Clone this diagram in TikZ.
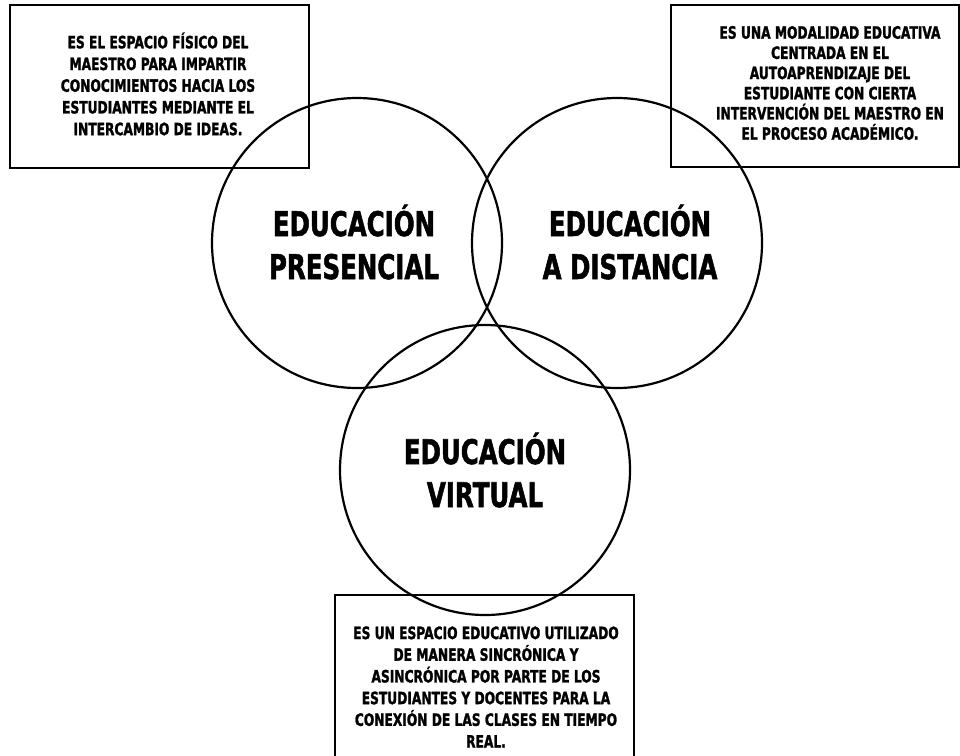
\documentclass[tikz,border=0pt]{standalone}
\usepackage{fontspec}
\setmainfont{DejaVu Sans}[FakeStretch=0.72,BoldFeatures={FakeBold=1.5}]
\begin{document}
\begin{tikzpicture}[x=1pt,y=-1pt,
  ring/.style={circle,draw,line width=2.2pt,minimum size=290pt,inner sep=0pt},
  frame/.style={draw,line width=1.9pt,inner sep=0pt},
  small/.style={align=center,font=\bfseries\fontsize{17}{21.7}\selectfont,inner sep=0pt},
  title/.style={align=center,font=\bfseries\fontsize{34}{43}\selectfont,inner sep=0pt}]
\useasboundingbox (0,0) rectangle (960,755);
% boxes
\node[frame,minimum width=299pt,minimum height=163pt] (b1) at (159.5,86.5) {};
\node[frame,minimum width=288pt,minimum height=162pt] (b2) at (815,86) {};
\coordinate (b3bl) at (335,757);
\coordinate (b3tl) at (335,595);
\coordinate (b3tr) at (634,595);
\coordinate (b3br) at (634,757);
\draw[line width=1.9pt] (b3bl) -- (b3tl) -- (b3tr) -- (b3br);
% circles
\node[ring] (c1) at (357,243) {};
\node[ring] (c2) at (617,243) {};
\node[ring] (c3) at (485,470) {};
% titles
\node[title] (t1) at (354,242) {EDUCACIÓN\\PRESENCIAL};
\node[title] (t2) at (630,242) {EDUCACIÓN\\A DISTANCIA};
\node[title] (t3) at (485,470) {EDUCACIÓN\\VIRTUAL};
% box texts
\node[small] (x1) at (158,84) {ES EL ESPACIO FÍSICO DEL\\MAESTRO PARA IMPARTIR\\CONOCIMIENTOS HACIA LOS\\ESTUDIANTES MEDIANTE EL\\INTERCAMBIO DE IDEAS.};
\node[small,font=\bfseries\fontsize{17}{20.2}\selectfont] (x2) at (830,83) {ES UNA MODALIDAD EDUCATIVA\\CENTRADA EN EL\\AUTOAPRENDIZAJE DEL\\ESTUDIANTE CON CIERTA\\INTERVENCIÓN DEL MAESTRO EN\\EL PROCESO ACADÉMICO.};
\node[small] (x3) at (486,687) {ES UN ESPACIO EDUCATIVO UTILIZADO\\DE MANERA SINCRÓNICA Y\\ASINCRÓNICA POR PARTE DE LOS\\ESTUDIANTES Y DOCENTES PARA LA\\CONEXIÓN DE LAS CLASES EN TIEMPO\\REAL.};
\end{tikzpicture}
\end{document}
